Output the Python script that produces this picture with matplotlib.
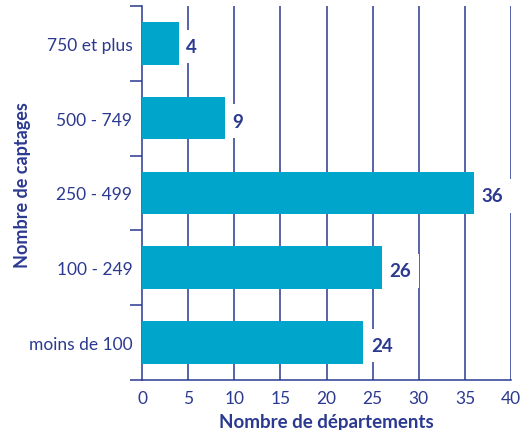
import numpy as np
import matplotlib.pyplot as plt
from matplotlib.ticker import FixedLocator

plt.rcParams['font.family'] = ['Lato', 'DejaVu Sans']

# Classes de captages (du bas vers le haut) et nombre de départements
classes = ["moins de 100", "100 - 249", "250 - 499", "500 - 749", "750 et plus"]
departements = [24, 26, 36, 9, 4]
x_ticks = [0, 5, 10, 15, 20, 25, 30, 35, 40]

navy = "#2B3990"
cyan = "#00A5CC"

fig = plt.figure(figsize=(5.28, 4.31), dpi=100)
ax = fig.add_axes([0.269, 0.116, 0.699, 0.868])

y = np.arange(len(classes))
ax.barh(y, departements, height=0.57, color=cyan, zorder=5)

# lignes verticales de la grille
for xv in x_ticks[1:]:
    ax.axvline(xv, color=navy, lw=1.1, zorder=1)

# valeurs en bout de barre, sur fond blanc pour couper la grille
for yi, v in zip(y, departements):
    ax.text(v + 0.8, yi - 0.04, str(v), color=navy, fontsize=13.5, fontweight="bold",
            va="center", ha="left", zorder=4,
            bbox=dict(facecolor="white", edgecolor="none", pad=6))

ax.set_xlim(0, 40)
ax.set_ylim(-0.5, len(classes) - 0.5)
ax.set_xticks(x_ticks)
ax.set_yticks(y)
ax.set_yticklabels(classes)
ax.yaxis.set_minor_locator(FixedLocator(np.arange(-0.5, len(classes), 1.0)))

ax.tick_params(axis="x", length=0, pad=7, labelsize=12.5, colors=navy)
ax.tick_params(axis="y", which="major", length=0, pad=7, labelsize=12.5, colors=navy)
ax.tick_params(axis="y", which="minor", length=9, width=1.1, color=navy)

for side in ["top", "right"]:
    ax.spines[side].set_visible(False)
for side in ["left", "bottom"]:
    ax.spines[side].set_color(navy)
    ax.spines[side].set_linewidth(1.1)

ax.set_xlabel("Nombre de départements", color=navy, fontsize=13.5, fontweight="bold", labelpad=5)
fig.text(0.042, 0.571, "Nombre de captages", color=navy, fontsize=13, fontweight="bold",
         rotation=90, ha="center", va="center")

fig.savefig("out.png", dpi=100)
